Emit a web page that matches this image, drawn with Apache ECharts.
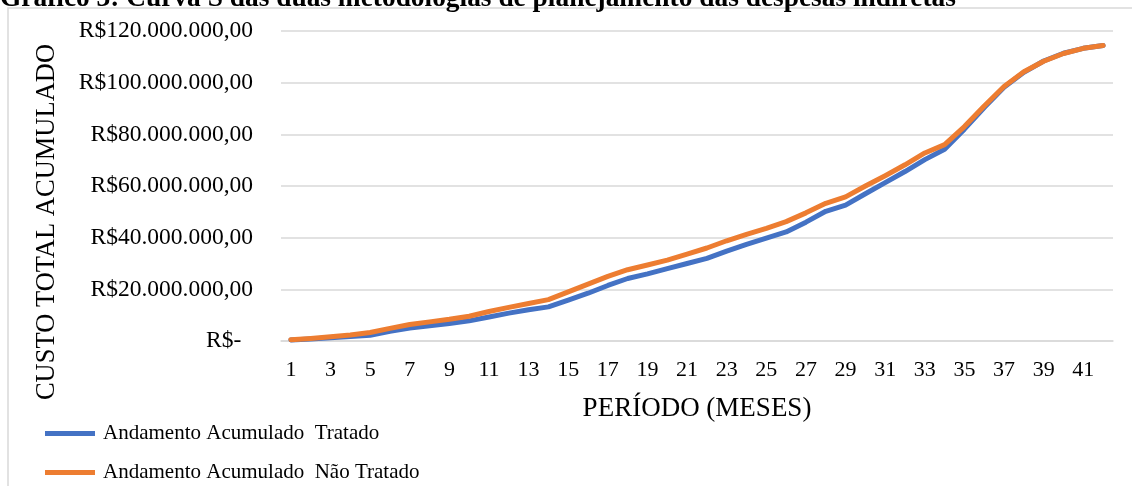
<!DOCTYPE html>
<html>
<head>
<meta charset="utf-8">
<script src="https://cdn.jsdelivr.net/npm/echarts@6/dist/echarts.min.js"></script>
<style>
html,body{margin:0;padding:0;background:#fff;}
#c{width:1132px;height:486px;}
</style>
</head>
<body>
<div id="c"></div>
<script>
// Period (months)
var categories = [];
for (var i = 1; i <= 42; i++) categories.push(String(i));
// Cumulative cost in millions of R$
var tratado = [0.4,0.8,1.3,1.7,2.2,3.8,5.0,5.9,6.8,7.8,9.3,10.8,12.1,13.2,15.8,18.5,21.5,24.2,26.0,28.0,30.0,32.0,34.8,37.4,39.8,42.2,46.0,50.2,52.6,57.0,61.3,65.6,70.2,74.2,82.0,90.4,98.2,104.0,108.4,111.4,113.3,114.4];
var naoTratado = [0.5,1.0,1.6,2.3,3.3,4.9,6.4,7.4,8.4,9.6,11.4,13.0,14.5,16.0,19.0,22.0,25.0,27.6,29.4,31.3,33.6,36.0,38.8,41.3,43.6,46.2,49.6,53.3,55.8,60.0,64.0,68.2,72.8,76.0,83.0,91.0,98.5,104.2,108.3,111.3,113.3,114.4];
var seriesNames = ['Andamento Acumulado  Tratado', 'Andamento Acumulado  Não Tratado'];
var titleText = 'Gráfico 3: Curva S das duas metodologias de planejamento das despesas indiretas';
var yName = 'CUSTO TOTAL ACUMULADO';
var xName = 'PERÍODO (MESES)';

function fmt(v) {
  if (v === 0) return 'R$-  ';
  var n = Math.round(v * 1e6);
  var s = String(n).replace(/\B(?=(\d{3})+(?!\d))/g, '.');
  return 'R$' + s + ',00';
}

var FONT = '"Liberation Serif", "Times New Roman", serif';
var chart = echarts.init(document.getElementById('c'));
chart.setOption({
  animation: false,
  backgroundColor: '#fff',
  graphic: [
    { type: 'rect', shape: { x: 8, y: 8, width: 1200, height: 600 }, style: { fill: 'none', stroke: '#d9d9d9', lineWidth: 1.5 }, silent: true, z: 0 },
    { type: 'text', left: 0, top: -15, style: { text: titleText, font: 'bold 27.4px ' + FONT, fill: '#000' }, z: 10 },
    { type: 'text', x: 47, y: 222, rotation: Math.PI / 2, style: { text: yName, font: '26.5px ' + FONT, fill: '#000', align: 'center', verticalAlign: 'middle' }, z: 10 }
  ],
  grid: { left: 281, right: 19, top: 31, bottom: 145, containLabel: false },
  legend: {
    orient: 'vertical', left: 45, top: 423, height: 80, padding: 0,
    itemWidth: 50, itemHeight: 5, itemGap: 18,
    icon: 'rect',
    textStyle: { fontFamily: FONT, fontSize: 21, color: '#000', padding: [0, 0, 0, 3] },
    data: seriesNames
  },
  xAxis: {
    type: 'category', data: categories, boundaryGap: true,
    axisLine: { show: true, lineStyle: { color: '#d9d9d9', width: 1.5 } },
    axisTick: { show: false },
    axisLabel: { interval: 1, margin: 18, fontFamily: FONT, fontSize: 22, color: '#000' },
    name: xName, nameLocation: 'middle', nameGap: 54,
    nameTextStyle: { fontFamily: FONT, fontSize: 27, color: '#000' }
  },
  yAxis: {
    type: 'value', min: 0, max: 120, interval: 20,
    axisLine: { show: false }, axisTick: { show: false },
    splitLine: { lineStyle: { color: '#d9d9d9', width: 1.5 } },
    axisLabel: { formatter: fmt, margin: 28, fontFamily: FONT, fontSize: 23.5, color: '#000' }
  },
  series: [
    { name: seriesNames[0], type: 'line', data: tratado, showSymbol: false, symbol: 'none', smooth: false,
      lineStyle: { color: '#4472C4', width: 5, cap: 'round', join: 'round' }, itemStyle: { color: '#4472C4' }, z: 2 },
    { name: seriesNames[1], type: 'line', data: naoTratado, showSymbol: false, symbol: 'none', smooth: false,
      lineStyle: { color: '#ED7D31', width: 5, cap: 'round', join: 'round' }, itemStyle: { color: '#ED7D31' }, z: 3 }
  ]
});
</script>
</body>
</html>
